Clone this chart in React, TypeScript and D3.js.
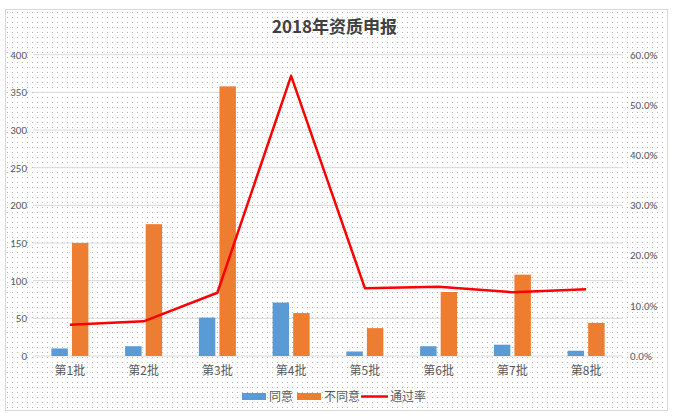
import * as d3 from "d3";

const categories = ["第1批", "第2批", "第3批", "第4批", "第5批", "第6批", "第7批", "第8批"];
const agree = [10, 13, 51, 71, 6, 13, 15, 7];
const disagree = [150, 175, 358, 57, 37, 85, 108, 44];
const passRate = [0.062, 0.069, 0.126, 0.558, 0.135, 0.138, 0.127, 0.133];
const leftTicks = [0, 50, 100, 150, 200, 250, 300, 350, 400];
const rightTicks = [0, 0.1, 0.2, 0.3, 0.4, 0.5, 0.6];
const seriesNames = ["同意", "不同意", "通过率"];

const W = 683;
const H = 420;
const plot = { left: 33, right: 623, top: 54.7, bottom: 356 };
const labelFont = "Calibri, 'Liberation Sans', 'Noto Sans CJK SC', sans-serif";
const cjkFont = "'Noto Sans CJK SC', sans-serif";
const textColor = "#595959";
const gridColor = "#d9d9d9";
const blue = "#5B9BD5";
const orange = "#ED7D31";
const red = "#FF0000";

export default function App() {
  const x0 = d3.scaleBand<string>().domain(categories).range([plot.left, plot.right]);
  const bw = x0.bandwidth();
  const x1 = d3
    .scaleBand<string>()
    .domain(["agree", "disagree"])
    .range([bw / 2 - 18.5, bw / 2 + 18.5])
    .paddingInner(0.2);
  const y = d3.scaleLinear().domain([0, 400]).range([plot.bottom, plot.top]);
  const yr = d3.scaleLinear().domain([0, 0.6]).range([plot.bottom, plot.top]);
  const pct = d3.format(".1%");

  const line = d3
    .line<number>()
    .x((_, i) => x0(categories[i])! + bw / 2)
    .y((d) => yr(d));

  return (
    <svg
      width={W}
      height={H}
      style={{ position: "absolute", left: 0, top: 0, background: "#fff" }}
    >
      <defs>
        <pattern id="dots" width={5} height={5} patternUnits="userSpaceOnUse">
          <rect width={5} height={5} fill="#fff" />
          <rect x={2} y={2} width={1} height={1} fill="#b3b3b3" />
        </pattern>
      </defs>
      <rect x={5.5} y={9.5} width={662} height={401} fill="url(#dots)" stroke={gridColor} />

      <text
        x={334.5}
        y={33}
        textAnchor="middle"
        fontFamily={cjkFont}
        fontWeight="bold"
        fontSize={17}
        fill="#404040"
      >
        2018年资质申报
      </text>

      {leftTicks.map((t) => (
        <g key={"g" + t}>
          <line x1={plot.left} x2={plot.right} y1={y(t)} y2={y(t)} stroke={gridColor} strokeWidth={1} />
          <text x={27} y={y(t)} dy="0.35em" textAnchor="end" fontFamily={labelFont} fontSize={11} fill={textColor}>
            {t}
          </text>
        </g>
      ))}
      {rightTicks.map((t) => (
        <text key={"r" + t} x={630} y={yr(t)} dy="0.35em" fontFamily={labelFont} fontSize={11} fill={textColor}>
          {pct(t)}
        </text>
      ))}

      {categories.map((c, i) => (
        <g key={c} transform={`translate(${x0(c)},0)`}>
          <rect x={x1("agree")} y={y(agree[i])} width={x1.bandwidth()} height={y(0) - y(agree[i])} fill={blue} />
          <rect
            x={x1("disagree")}
            y={y(disagree[i])}
            width={x1.bandwidth()}
            height={y(0) - y(disagree[i])}
            fill={orange}
          />
          <text x={bw / 2} y={371} dy="0.35em" textAnchor="middle" fontFamily={cjkFont} fontSize={12} fill={textColor}>
            {c}
          </text>
        </g>
      ))}

      <path d={line(passRate) || ""} fill="none" stroke={red} strokeWidth={2.5} strokeLinejoin="round" />

      <g fontFamily={cjkFont} fontSize={12} fill={textColor}>
        <rect x={242} y={393} width={24} height={7} fill={blue} />
        <text x={269} y={397} dy="0.35em">{seriesNames[0]}</text>
        <rect x={297} y={393} width={24} height={7} fill={orange} />
        <text x={324} y={397} dy="0.35em">{seriesNames[1]}</text>
        <line x1={361} x2={388} y1={396.5} y2={396.5} stroke={red} strokeWidth={2.5} />
        <text x={390} y={397} dy="0.35em">{seriesNames[2]}</text>
      </g>
    </svg>
  );
}
